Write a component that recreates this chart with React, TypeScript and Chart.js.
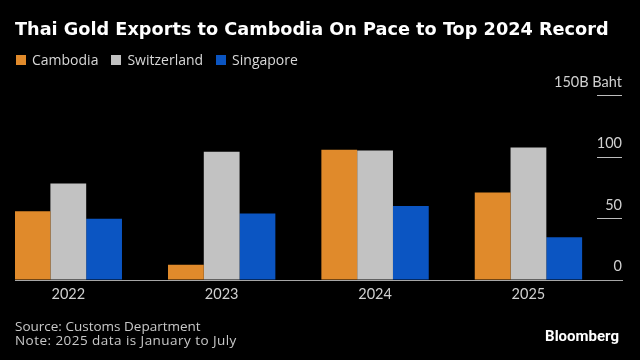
import React, { useEffect, useRef } from 'react';
import { Chart, registerables } from 'chart.js';

Chart.register(...registerables);

// ---- data ----
const years = [2022, 2023, 2024, 2025];
const cambodia = [55.9, 12.5, 106, 71.3];
const switzerland = [78.6, 104.3, 105.4, 107.9];
const singapore = [49.8, 54.2, 60.2, 34.7];
const seriesNames = ['Cambodia', 'Switzerland', 'Singapore'];
const seriesColors = ['#E08A2B', '#C2C2C2', '#0B55C2'];
const yTicks = [0, 50, 100, 150];
const yUnit = 'B Baht';

const TITLE = 'Thai Gold Exports to Cambodia On Pace to Top 2024 Record';
const SOURCE = 'Source: Customs Department';
const NOTE = 'Note: 2025 data is January to July';
const BRAND = 'Bloomberg';

const TICK_FONT = 'Lato, "Open Sans", sans-serif';
const TEXT_FONT = '"Open Sans", Lato, sans-serif';

export default function App() {
  const canvasRef = useRef<HTMLCanvasElement>(null);

  useEffect(() => {
    if (!canvasRef.current) return;
    const seriesData = [cambodia, switzerland, singapore];
    const chart = new Chart(canvasRef.current, {
      type: 'bar',
      data: {
        labels: years,
        datasets: seriesData.map((d, i) => ({
          label: seriesNames[i],
          data: d,
          backgroundColor: seriesColors[i],
          borderWidth: 0,
          barPercentage: 1,
          categoryPercentage: 0.7,
        })),
      },
      options: {
        animation: false,
        responsive: true,
        maintainAspectRatio: false,
        layout: { padding: { left: 15, right: 18, top: 95.7, bottom: 50 } },
        plugins: {
          legend: { display: false },
          tooltip: { enabled: false },
          title: { display: false },
        },
        scales: {
          x: {
            type: 'linear',
            offset: false,
            bounds: 'data',
            min: 2021.6525,
            max: 2025.61,
            grid: { display: false, drawTicks: false },
            border: { display: true, color: '#a6a6a6', width: 1 },
            ticks: {
              autoSkip: false,
              maxRotation: 0,
              padding: 6,
              color: '#d0d0d0',
              font: { family: TICK_FONT, size: 14.5 },
              callback: (v: any) => String(v),
            },
            afterBuildTicks: (s: any) => {
              s.ticks = years.map((v) => ({ value: v }));
              s.min = 2021.6525;
              s.max = 2025.61;
            },
            afterFit: (s: any) => {
              s.height = 30;
            },
          },
          y: {
            type: 'linear',
            position: 'right',
            min: 0,
            max: 150,
            grid: {
              display: true,
              drawOnChartArea: false,
              drawTicks: true,
              tickLength: -25,
              color: '#bdbdbd',
              lineWidth: 1,
            },
            border: { display: false },
            ticks: {
              mirror: true,
              padding: 0,
              labelOffset: -13.4,
              color: '#d0d0d0',
              font: { family: TICK_FONT, size: 14.5 },
              callback: (v: any) => (v === yTicks[yTicks.length - 1] ? `${v}${yUnit}` : String(v)),
            },
            afterBuildTicks: (s: any) => {
              s.ticks = yTicks.map((v) => ({ value: v }));
            },
            afterFit: (s: any) => {
              s.width = 0;
            },
          },
        },
      },
    });
    return () => chart.destroy();
  }, []);

  return (
    <div
      style={{
        position: 'fixed',
        left: 0,
        top: 0,
        width: 640,
        height: 360,
        background: '#000',
        overflow: 'hidden',
      }}
    >
      <div style={{ position: 'absolute', left: 0, top: 0, width: 640, height: 360 }}>
        <canvas ref={canvasRef} />
      </div>
      <div
        style={{
          position: 'absolute',
          left: 15,
          top: 21.0,
          font: 'bold 17.7px "DejaVu Sans", sans-serif',
          lineHeight: '17.7px',
          color: '#fff',
          whiteSpace: 'nowrap',
        }}
      >
        {TITLE}
      </div>
      <div
        style={{
          position: 'absolute',
          left: 16,
          top: 52.6,
          display: 'flex',
          alignItems: 'center',
          font: `14px ${TEXT_FONT}`,
          lineHeight: '14px',
          color: '#d8d8d8',
          whiteSpace: 'nowrap',
        }}
      >
        {seriesNames.map((n, i) => (
          <div key={n} style={{ display: 'flex', alignItems: 'center', marginRight: 13 }}>
            <span
              style={{
                display: 'inline-block',
                width: 10,
                height: 10,
                background: seriesColors[i],
                marginRight: 6,
              }}
            />
            <span>{n}</span>
          </div>
        ))}
      </div>
      <div
        style={{
          position: 'absolute',
          left: 15,
          top: 318.6,
          font: `13.5px ${TEXT_FONT}`,
          lineHeight: '14.3px',
          color: '#c8c8c8',
          whiteSpace: 'nowrap',
        }}
      >
        <div>{SOURCE}</div>
        <div style={{ letterSpacing: '0.45px' }}>{NOTE}</div>
      </div>
      <div
        style={{
          position: 'absolute',
          right: 21,
          top: 329.4,
          font: 'bold 15px Roboto, sans-serif',
          lineHeight: '15px',
          color: '#fff',
          whiteSpace: 'nowrap',
        }}
      >
        {BRAND}
      </div>
    </div>
  );
}
